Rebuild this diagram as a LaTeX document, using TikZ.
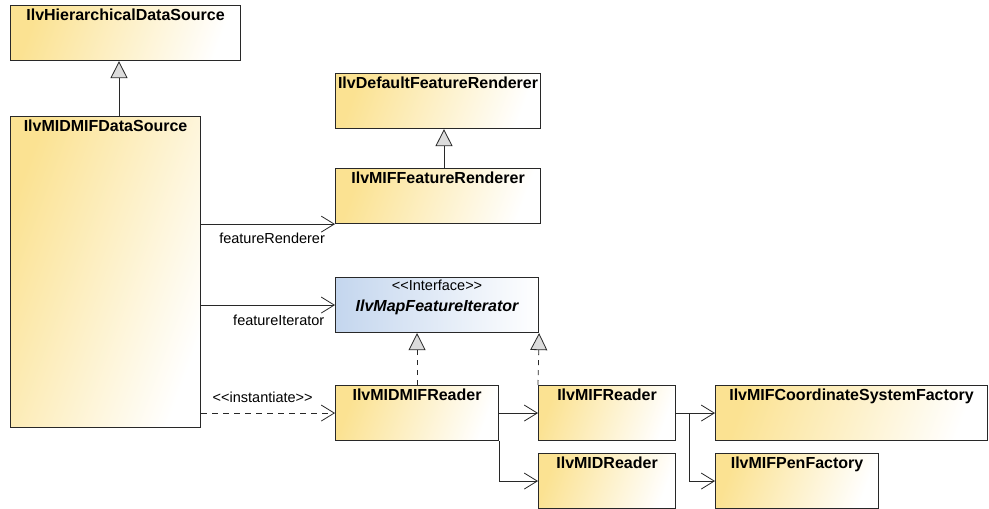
\documentclass[tikz,border=0pt]{standalone}
\usepackage{fontspec}
\setmainfont{Liberation Sans}
\usetikzlibrary{arrows.meta,calc}
\definecolor{clsyellow}{RGB}{251,226,146}
\definecolor{ifblue}{RGB}{196,214,238}
\definecolor{trigray}{RGB}{220,220,220}
\definecolor{edgegray}{RGB}{40,40,40}
\newcommand{\stereo}[1]{{<}{<}#1{>}{>}}
\tikzset{
  x=1pt, y=-1pt,
  cls/.style={draw=edgegray, line width=1.1pt, left color=clsyellow, right color=white,
    shading angle=70, rectangle, anchor=north west, inner sep=0pt},
  iface/.style={cls, left color=ifblue, right color=white},
  cname/.style={anchor=north, inner sep=0pt, font=\fontsize{16}{18}\selectfont\bfseries},
  lbl/.style={inner sep=0pt, font=\fontsize{14.5}{16}\selectfont},
  assoc/.style={draw=edgegray, line width=0.8pt, -{Straight Barb[length=13pt,width=16pt,line width=0.8pt]}},
  gen/.style={draw=edgegray, line width=0.8pt, -{Triangle[length=17pt,width=17pt,fill=trigray,line width=0.8pt]}},
  real/.style={gen, dash pattern=on 5pt off 5pt},
  dep/.style={assoc, dash pattern=on 6pt off 5pt},
}
\begin{document}
\begin{tikzpicture}
\useasboundingbox[fill=white] (0,0) rectangle (989,509);

% classes
\node[cls, minimum width=230pt, minimum height=55pt] (hds) at (10,5) {};
\node[cname] at ([yshift=-4pt]hds.north) {IlvHierarchicalDataSource};

\node[cls, minimum width=190pt, minimum height=311pt] (ds) at (10,116) {};
\node[cname] at ([yshift=-4pt]ds.north) {IlvMIDMIFDataSource};

\node[cls, minimum width=205pt, minimum height=55pt] (dfr) at (335,73) {};
\node[cname] at ([yshift=-4pt]dfr.north) {IlvDefaultFeatureRenderer};

\node[cls, minimum width=205pt, minimum height=55pt] (mfr) at (335,168) {};
\node[cname] at ([yshift=-4pt]mfr.north) {IlvMIFFeatureRenderer};

\node[iface, minimum width=203pt, minimum height=55pt] (mfi) at (335,277) {};
\node[lbl, anchor=north] at ([yshift=-3pt]mfi.north) {\stereo{Interface}};
\node[cname, font=\fontsize{16}{18}\selectfont\bfseries\itshape] at ([yshift=-23pt]mfi.north) {IlvMapFeatureIterator};

\node[cls, minimum width=163pt, minimum height=55pt] (mmr) at (335,385) {};
\node[cname] at ([yshift=-4pt]mmr.north) {IlvMIDMIFReader};

\node[cls, minimum width=137pt, minimum height=55pt] (mifr) at (538,385) {};
\node[cname] at ([yshift=-4pt]mifr.north) {IlvMIFReader};

\node[cls, minimum width=137pt, minimum height=55pt] (midr) at (538,453) {};
\node[cname] at ([yshift=-4pt]midr.north) {IlvMIDReader};

\node[cls, minimum width=272pt, minimum height=55pt] (csf) at (715,385) {};
\node[cname] at ([yshift=-4pt]csf.north) {IlvMIFCoordinateSystemFactory};

\node[cls, minimum width=163pt, minimum height=55pt] (pen) at (715,453) {};
\node[cname] at ([yshift=-4pt]pen.north) {IlvMIFPenFactory};

% generalizations
\draw[gen] ([xshift=109pt]ds.north west) -- ([xshift=109pt]hds.south west);
\draw[gen] ([xshift=109pt]mfr.north west) -- ([xshift=109pt]dfr.south west);

% realizations
\draw[real] (mmr.north) -- (mmr.north |- mfi.south);
\draw[real] (mifr.north west) -- (mfi.south east);

% associations
\draw[assoc] (ds.east |- mfr.south west) -- node[lbl, below=8pt, pos=0.53] {featureRenderer} (mfr.south west);
\draw[assoc] (ds.east |- mfi.west) -- node[lbl, below=10pt, pos=0.58] {featureIterator} (mfi.west);
\draw[dep] (ds.east |- mmr.west) -- node[lbl, above=10pt, pos=0.46] {\stereo{instantiate}} (mmr.west);

\draw[assoc] (mmr.east) -- (mifr.west);
\draw[assoc] (mmr.south east) -- (mmr.south east |- midr.west) -- (midr.west);
\draw[assoc] (mifr.east) -- (csf.west);
\draw[assoc] ([xshift=13pt]mifr.east) -- ([xshift=13pt]mifr.east |- pen.west) -- (pen.west);
\end{tikzpicture}
\end{document}
